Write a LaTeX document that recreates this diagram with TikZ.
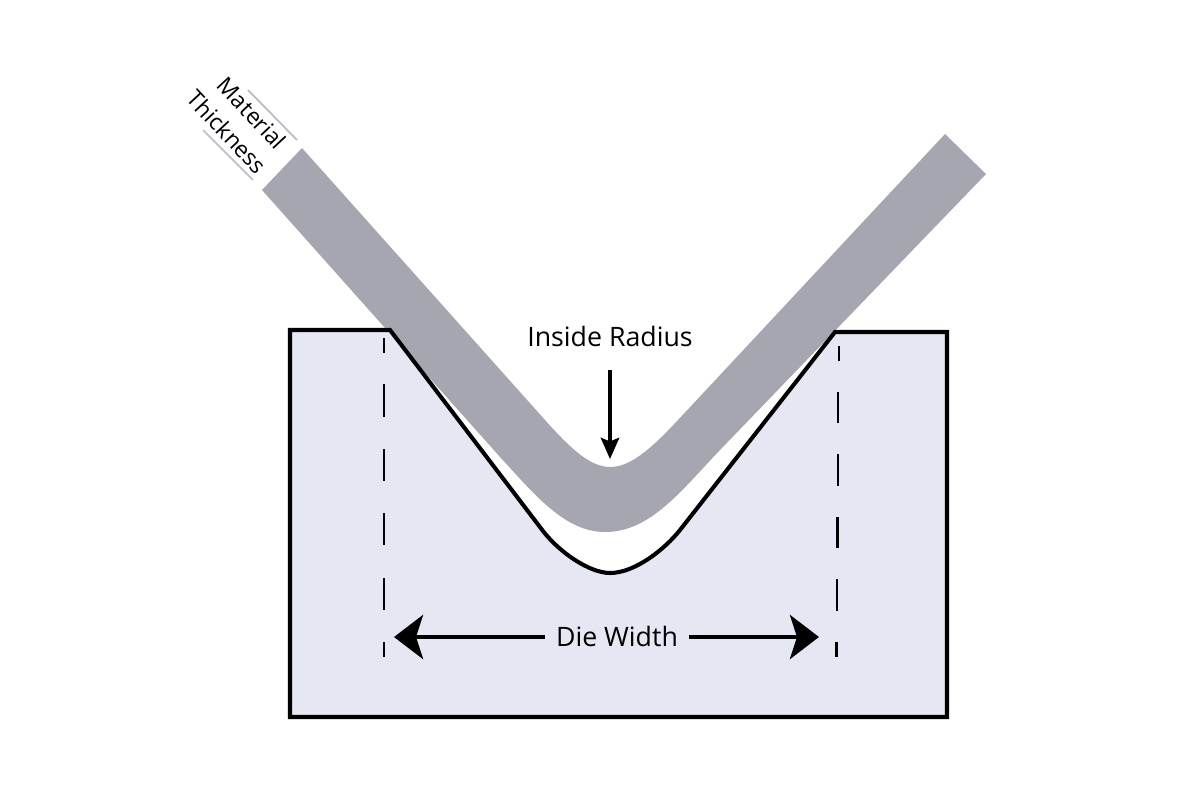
\documentclass[tikz,border=0pt]{standalone}
\usepackage{fontspec}
\setmainfont{Open Sans}
\usetikzlibrary{arrows.meta}
\definecolor{plategray}{RGB}{165, 166, 175}
\definecolor{diefill}{RGB}{229, 231, 243}
\definecolor{ticklight}{RGB}{186, 186, 206}

\tikzset{
    diearrow/.style={line width=1.4pt, -{Stealth[length=8.25pt, width=12.5pt, inset=2pt]}},
    radiusarrow/.style={line width=1.1pt, -{Stealth[length=6pt, width=5.2pt, inset=1pt]}},
    dieguide/.style={line width=0.65pt, black},
    label/.style={font=\fontsize{7.6pt}{9pt}\selectfont, inner sep=1pt},
    smalllabel/.style={font=\fontsize{6.5pt}{8pt}\selectfont, inner sep=0pt, rotate=-47}
}

\begin{document}
\begin{tikzpicture}[x=0.01cm, y=-0.01cm]
            \useasboundingbox (0,0) rectangle (1200,800);
            % Die
            \fill[diefill]
                 (290,330) -- (390,330) -- (543,531)
                 .. controls (560,553) and (590,573) .. (610,573)
                 .. controls (635,573) and (665,549) .. (680,530)
                 -- (835,332) -- (947,332) -- (947,717) -- (290,717) -- cycle;
            % Plate
            \fill[plategray]
                 (302,148) -- (545,420)
                 .. controls (570,448) and (590,467) .. (610,467)
                 .. controls (630,467) and (650,450) .. (678,420)
                 -- (945,134) -- (986,174) -- (720,450)
                 .. controls (680,492) and (650,532) .. (605,532)
                 .. controls (565,532) and (535,495) .. (500,457)
                 -- (262,190) -- cycle;
            % Die outline
            \draw[line width=1.15pt, line join=miter]
                 (290,330) -- (390,330) -- (543,531)
                 .. controls (560,553) and (590,573) .. (610,573)
                 .. controls (635,573) and (665,549) .. (680,530)
                 -- (835,332) -- (947,332) -- (947,717) -- (290,717) -- cycle;
            % Guide lines
            \foreach \ya/\yb in {338/353, 384/417, 449/481, 513/545, 578/610, 642/657}
                \draw[dieguide] (384,\ya) -- (384,\yb);
            \foreach \xa/\ya/\yb in {839/346/361, 838/392/423, 838/454/486, 837.5/517/548, 837/579/611, 836.5/642/657}
                \draw[dieguide] (\xa,\ya) -- (\xa,\yb);
            % Labels
            \node[label] (radius) at (610,336) {Inside Radius};
            \node[label, inner sep=3pt] (width) at (617,636) {Die Width};
            \node[smalllabel] (material) at (252,113) {Material};
            \node[smalllabel] (thickness) at (227,132) {Thickness};
            % Arrows
            \coordinate (radiusstart) at (610,370);
            \coordinate (radiustip) at (610,459);
            \coordinate (widthleft) at (394,637);
            \coordinate (widthright) at (819,637);
            \draw[radiusarrow] (radiusstart) -- (radiustip);
            \draw[diearrow] (width.west) ++(0,1) -- (widthleft);
            \draw[diearrow] (width.east) ++(0,1) -- (widthright);
            % Thickness ticks
            \draw[ticklight, line width=0.5pt] (248,90) -- (297,140);
            \draw[ticklight, line width=0.5pt] (203,130) -- (253,180);
        \end{tikzpicture}
\end{document}
